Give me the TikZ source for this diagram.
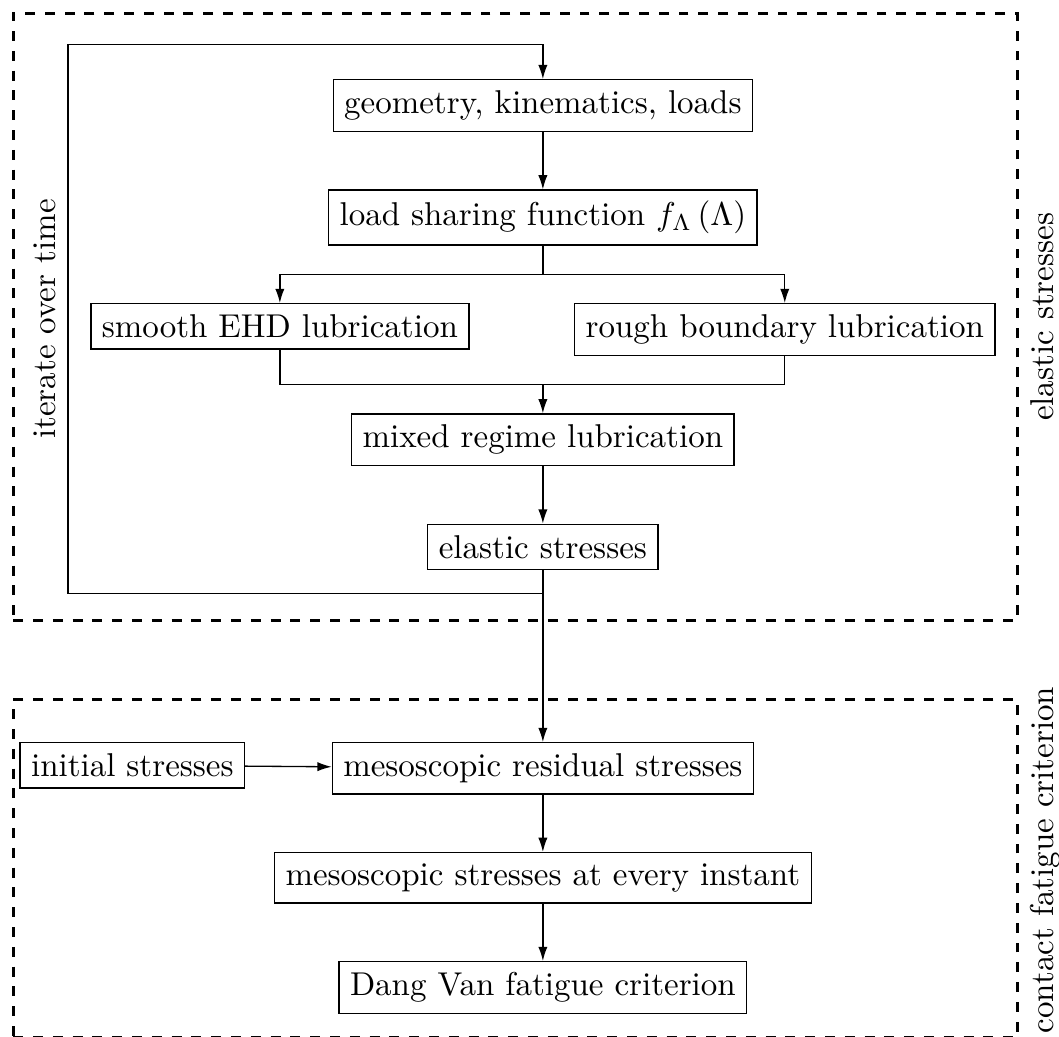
\documentclass[tikz,border=0pt]{standalone}
\usepackage{amsmath,amssymb}
\usetikzlibrary{arrows.meta, positioning, calc}
\tikzset{
  stagebox/.style={draw, rectangle, align=center},
  flowarrow/.style={-{Latex[length=4.3pt, width=2.8pt]}},
  zonebox/.style={draw, dashed, thick, rectangle, minimum width=304.3pt, anchor=north west},
  zonelbl/.style={rotate=90, anchor=north},
}

\begin{document}
\begin{tikzpicture}
  \useasboundingbox (0,0) rectangle (320.9pt,-314.2pt);
  \node[zonebox, minimum height=184pt] (elasticzone) at (3.6pt,-3.6pt) {};
  \node[zonebox, minimum height=102.4pt] (fatiguezone) at (3.6pt,-211.5pt) {};
  \node[zonelbl] (elasticlbl) at (elasticzone.east) {elastic stresses};
  \node[zonelbl] (fatiguelbl) at ($(fatiguezone.east)+(0,2.5pt)$) {contact fatigue criterion};

  \node[stagebox] (geom) at (164.5pt,-32pt) {geometry, kinematics, loads};
  \node[stagebox, below=0.61cm of geom] (share) {load sharing function $f_{\Lambda}\left(\Lambda\right)$};
  \node[stagebox, below=0.61cm of share, xshift=-79.7pt] (smooth) {smooth EHD lubrication};
  \node[stagebox, below=0.61cm of share, xshift=73.3pt] (rough) {rough boundary lubrication};
  \coordinate (lubjoin) at (share.south |- rough.south);
  \node[stagebox, below=0.61cm of lubjoin] (mixed) {mixed regime lubrication};
  \node[stagebox, below=0.61cm of mixed] (elastic) {elastic stresses};
  \node[stagebox, below=1.83cm of elastic] (resid) {mesoscopic residual stresses};
  \node[stagebox, base left=0.92cm of resid] (init) {initial stresses};
  \node[stagebox, below=0.61cm of resid] (instant) {mesoscopic stresses at every instant};
  \node[stagebox, below=0.61cm of instant] (dangvan) {Dang Van fatigue criterion};

  \coordinate (split) at ($(share.south)!0.5!(share.south |- smooth.north)$);
  \coordinate (merge) at ($(lubjoin)!0.5!(mixed.north)$);
  \coordinate (loopjoin) at ($(elastic.south)+(0,-7pt)$);
  \coordinate (looptop) at ($(geom.north)+(0,10.4pt)$);
  \coordinate (loopcorner) at ($(looptop)+(-143.9pt,0)$);

  \draw[flowarrow] (geom) -- (share);
  \draw (share) -- (split);
  \draw[flowarrow] (split) -| (smooth);
  \draw[flowarrow] (split) -| (rough);
  \draw (smooth) |- (merge) -| (rough);
  \draw[flowarrow] (merge) -- (mixed);
  \draw[flowarrow] (mixed) -- (elastic);
  \draw[flowarrow] (elastic) -- (resid);
  \draw[flowarrow] (loopjoin) -| (loopcorner) node[pos=0.75, rotate=90, above] (looplbl) {iterate over time} -- (looptop) -- (geom);
  \draw[flowarrow] (init) -- (resid);
  \draw[flowarrow] (resid) -- (instant);
  \draw[flowarrow] (instant) -- (dangvan);
\end{tikzpicture}
\end{document}
